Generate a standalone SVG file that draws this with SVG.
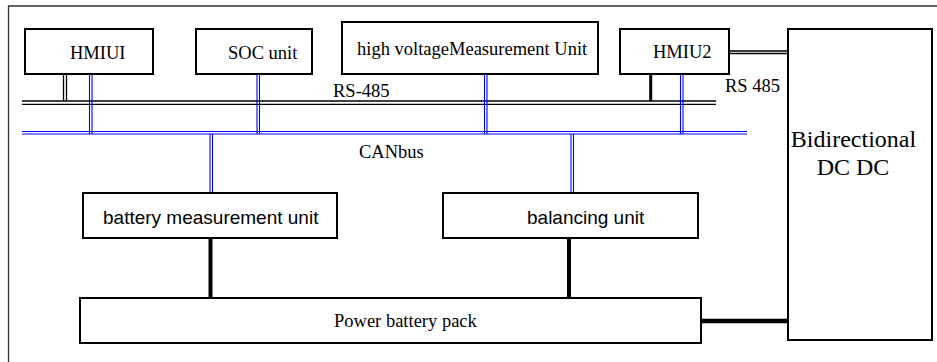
<svg xmlns="http://www.w3.org/2000/svg" width="937" height="362" viewBox="0 0 937 362">
<style>
.box{fill:#fff;stroke:#000;stroke-width:2}
.serif{font-family:"Liberation Serif","Times New Roman",serif;font-size:18.5px;fill:#000}
.sans{font-family:"Liberation Sans",Arial,sans-serif;font-size:19px;fill:#000}
.blk{stroke:#000;stroke-width:1.3;fill:none}
.blu{stroke:#0000ff;stroke-width:1.1;fill:none}
.thick{stroke:#000;stroke-width:4;fill:none}
</style>
<rect width="937" height="362" fill="#fff"/>
<path d="M8.5 362 V6 H937" fill="none" stroke="#333" stroke-width="1.3"/>
<g id="connectors">
  <!-- RS-485 bus -->
  <line class="blk" x1="22" y1="101" x2="716" y2="101"/>
  <line class="blk" x1="22" y1="104.3" x2="716" y2="104.3"/>
  <text class="serif" x="333" y="96.5">RS-485</text>
  <!-- CAN bus -->
  <line class="blu" x1="22" y1="131.5" x2="747" y2="131.5"/>
  <line class="blu" x1="22" y1="134" x2="747" y2="134"/>
  <text class="serif" x="359" y="158">CANbus</text>
  <!-- HMIUI to RS-485 -->
  <line class="blk" x1="63.5" y1="74" x2="63.5" y2="101"/>
  <line class="blk" x1="66.5" y1="74" x2="66.5" y2="101"/>
  <!-- HMIU2 to RS-485 -->
  <line class="thick" x1="650.7" y1="74" x2="650.7" y2="101" style="stroke-width:3"/>
  <!-- blue drops to CAN -->
  <line class="blu" x1="89.5" y1="74" x2="89.5" y2="134"/>
  <line class="blu" x1="92" y1="74" x2="92" y2="134"/>
  <line class="blu" x1="257" y1="74" x2="257" y2="134"/>
  <line class="blu" x1="259.5" y1="74" x2="259.5" y2="134"/>
  <line class="blu" x1="484.5" y1="74" x2="484.5" y2="134"/>
  <line class="blu" x1="487" y1="74" x2="487" y2="134"/>
  <line class="blu" x1="680.5" y1="74" x2="680.5" y2="134"/>
  <line class="blu" x1="683" y1="74" x2="683" y2="134"/>
  <line class="blu" x1="210" y1="134" x2="210" y2="193"/>
  <line class="blu" x1="212.5" y1="134" x2="212.5" y2="193"/>
  <line class="blu" x1="571" y1="134" x2="571" y2="193"/>
  <line class="blu" x1="573.5" y1="134" x2="573.5" y2="193"/>
  <!-- HMIU2 to DC/DC RS 485 -->
  <line class="blk" x1="729" y1="51" x2="788" y2="51"/>
  <line class="blk" x1="729" y1="53.5" x2="788" y2="53.5"/>
  <text class="serif" x="725" y="91.7">RS 485</text>
  <!-- units to battery pack -->
  <line class="thick" x1="210.5" y1="238" x2="210.5" y2="298"/>
  <line class="thick" x1="569" y1="238" x2="569" y2="298"/>
  <!-- battery pack to DC/DC -->
  <line x1="698" y1="321" x2="788" y2="321" stroke="#000" stroke-width="4.5" stroke-linecap="round"/>
</g>
<g id="hmiu1">
  <rect class="box" x="25" y="29" width="128" height="45"/>
  <text class="serif" x="70" y="58.5">HMIUI</text>
</g>
<g id="soc">
  <rect class="box" x="196" y="29" width="116" height="45"/>
  <text class="serif" x="228" y="58.5">SOC unit</text>
</g>
<g id="hv">
  <rect class="box" x="342" y="22" width="256" height="52"/>
  <text class="serif" x="357" y="55">high voltageMeasurement Unit</text>
</g>
<g id="hmiu2">
  <rect class="box" x="620" y="29" width="109" height="45"/>
  <text class="serif" x="653" y="58">HMIU2</text>
</g>
<g id="dcdc">
  <rect class="box" x="788" y="29" width="144" height="311"/>
  <text class="serif" x="853.5" y="147" text-anchor="middle" style="font-size:24px">Bidirectional</text>
  <text class="serif" x="853" y="175" text-anchor="middle" style="font-size:24px">DC DC</text>
</g>
<g id="bmu">
  <rect class="box" x="83" y="193" width="254" height="45"/>
  <text class="sans" x="103" y="223.5">battery measurement unit</text>
</g>
<g id="balancing">
  <rect class="box" x="443" y="193" width="255" height="45"/>
  <text class="sans" x="527" y="224">balancing unit</text>
</g>
<g id="pack">
  <rect class="box" x="80" y="298" width="621" height="45"/>
  <text class="serif" x="334" y="327">Power battery pack</text>
</g>
</svg>
